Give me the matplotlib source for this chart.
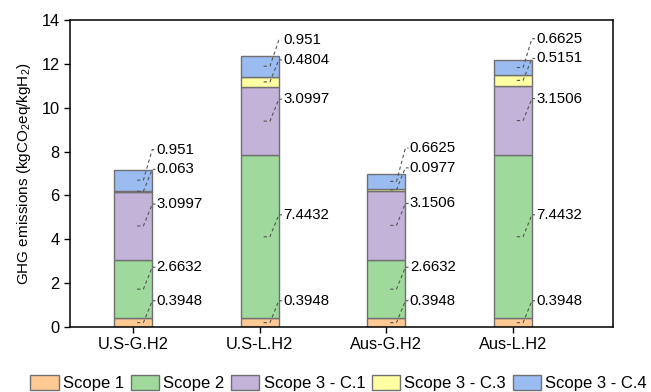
import matplotlib
matplotlib.use("Agg")
import matplotlib.pyplot as plt
from matplotlib.patches import Patch
import numpy as np

plt.rcParams['font.family'] = ['Liberation Sans', 'DejaVu Sans']
plt.rcParams['mathtext.default'] = 'regular'

# data
cases = ["U.S-G.H2", "U.S-L.H2", "Aus-G.H2", "Aus-L.H2"]
scopes = ["Scope 1", "Scope 2", "Scope 3 - C.1", "Scope 3 - C.3", "Scope 3 - C.4"]
scope1 = [0.3948, 0.3948, 0.3948, 0.3948]
scope2 = [2.6632, 7.4432, 2.6632, 7.4432]
scope3_c1 = [3.0997, 3.0997, 3.1506, 3.1506]
scope3_c3 = [0.063, 0.4804, 0.0977, 0.5151]
scope3_c4 = [0.951, 0.951, 0.6625, 0.6625]
value_labels = [
    ["0.3948", "2.6632", "3.0997", "0.063", "0.951"],
    ["0.3948", "7.4432", "3.0997", "0.4804", "0.951"],
    ["0.3948", "2.6632", "3.1506", "0.0977", "0.6625"],
    ["0.3948", "7.4432", "3.1506", "0.5151", "0.6625"],
]

colors = ["#FFC994", "#9FD99C", "#C3B3D8", "#FFFFA3", "#9ABCF1"]

fig = plt.figure(figsize=(6.51, 3.92), dpi=100)
ax = fig.add_axes([0.1075, 0.1658, 0.834, 0.7832])

x = np.arange(1, len(cases) + 1)
width = 0.3
series = np.array([scope1, scope2, scope3_c1, scope3_c3, scope3_c4])
bottom = np.zeros(len(cases))
centers = []
for vals, col in zip(series, colors):
    ax.bar(x, vals, width, bottom=bottom, color=col, edgecolor="#707070", linewidth=1, zorder=2)
    centers.append(bottom + vals / 2)
    bottom = bottom + vals
centers = np.array(centers)

# leader-line labels
for j in range(len(cases)):
    label_y = centers[:, j] + 1.0
    label_y[4] = max(label_y[4], label_y[3] + 0.9)
    for i in range(len(scopes)):
        yc = centers[i, j]
        yl = label_y[i]
        xs = [x[j] + 0.03, x[j] + 0.08, x[j] + 0.15, x[j] + 0.175]
        ys = [yc, yc, yl, yl]
        ax.plot(xs, ys, ls=(0, (3, 2.5)), color="#555555", lw=0.8, zorder=3)
        ax.text(x[j] + 0.185, yl, value_labels[j][i], va="center", ha="left", fontsize=10.8)

ax.set_xlim(0.5, 4.79)
ax.set_ylim(0, 14)
ax.set_yticks(range(0, 15, 2))
ax.set_xticks(x)
ax.set_xticklabels(cases)
ax.tick_params(axis="both", direction="out", length=4, width=1, labelsize=11.8)
for s in ax.spines.values():
    s.set_linewidth(1.1)
ax.set_ylabel("GHG emissions (kgCO$_2$eq/kgH$_2$)", fontsize=11, labelpad=6)

handles = [Patch(facecolor=c, edgecolor="#707070", label=s) for c, s in zip(colors, scopes)]
fig.legend(handles=handles, loc="center", bbox_to_anchor=(0.52, 0.023), ncol=5, frameon=False,
           fontsize=12, handlelength=1.7, handleheight=1.0, handletextpad=0.25, columnspacing=0.4,
           borderaxespad=0)

fig.savefig("out.png", dpi=100)
